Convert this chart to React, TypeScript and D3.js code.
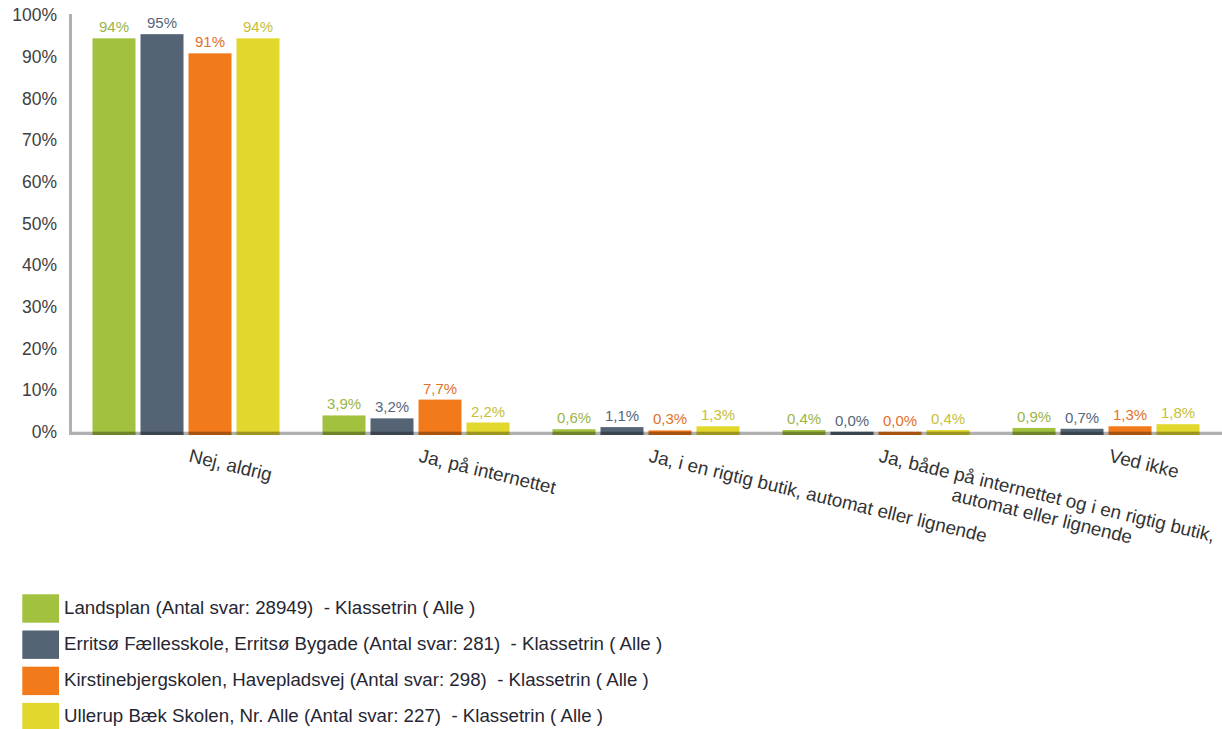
import React, { useEffect, useRef } from "react";
import * as d3 from "d3";

const categories: string[][] = [
  ["Nej, aldrig"],
  ["Ja, på internettet"],
  ["Ja, i en rigtig butik, automat eller lignende"],
  ["Ja, både på internettet og i en rigtig butik,", "automat eller lignende"],
  ["Ved ikke"],
];

const seriesNames = [
  "Landsplan (Antal svar: 28949)  - Klassetrin ( Alle )",
  "Erritsø Fællesskole, Erritsø Bygade (Antal svar: 281)  - Klassetrin ( Alle )",
  "Kirstinebjergskolen, Havepladsvej (Antal svar: 298)  - Klassetrin ( Alle )",
  "Ullerup Bæk Skolen, Nr. Alle (Antal svar: 227)  - Klassetrin ( Alle )",
];

const landsplan = [94.4, 3.9, 0.6, 0.4, 0.9];
const erritsoe = [95.4, 3.2, 1.1, 0.0, 0.7];
const kirstinebjerg = [90.8, 7.7, 0.3, 0.0, 1.3];
const ullerup = [94.4, 2.2, 1.3, 0.4, 1.8];
const seriesValues = [landsplan, erritsoe, kirstinebjerg, ullerup];

const barColors = ["#a2c13f", "#546475", "#f27a1a", "#e2d82d"];
const labelColors = ["#9ab548", "#56667a", "#e2712a", "#c8c033"];

const yTicks = [0, 10, 20, 30, 40, 50, 60, 70, 80, 90, 100];

const W = 1222;
const H = 729;
const FONT = "'Liberation Sans', Arial, sans-serif";

function fmt(v: number): string {
  if (v >= 10) return `${Math.round(v)}%`;
  return `${v.toFixed(1).replace(".", ",")}%`;
}

export default function App() {
  const ref = useRef<SVGSVGElement | null>(null);

  useEffect(() => {
    const svg = d3.select(ref.current);
    svg.selectAll("*").remove();

    const y = d3.scaleLinear().domain([0, 100]).range([431.7, 15]);
    const x0 = d3
      .scaleBand<number>()
      .domain(categories.map((_, i) => i))
      .range([71, 1221])
      .padding(0);
    const groupW = 187;
    const x1 = d3
      .scaleBand<number>()
      .domain(seriesValues.map((_, i) => i))
      .range([0, groupW])
      .paddingInner(5 / 48)
      .paddingOuter(0);
    const base = 435;

    // y tick labels
    const yg = svg.append("g");
    yTicks.forEach((t) => {
      yg.append("text")
        .attr("x", 57)
        .attr("y", y(t))
        .attr("dy", "0.36em")
        .attr("text-anchor", "end")
        .attr("font-family", FONT)
        .attr("font-size", 17.5)
        .attr("fill", "#404040")
        .text(`${t}%`);
    });

    // bars
    const bars = svg.append("g");
    categories.forEach((_, ci) => {
      const gx = x0(ci)! + x0.bandwidth() / 2 - groupW / 2;
      seriesValues.forEach((vals, si) => {
        const v = vals[ci];
        const bx = gx + x1(si)!;
        bars
          .append("rect")
          .attr("x", bx)
          .attr("y", y(v))
          .attr("width", x1.bandwidth())
          .attr("height", base - y(v))
          .attr("fill", barColors[si]);
        bars
          .append("text")
          .attr("x", bx + x1.bandwidth() / 2)
          .attr("y", y(v) - 6)
          .attr("text-anchor", "middle")
          .attr("font-family", FONT)
          .attr("font-size", 15)
          .attr("fill", labelColors[si])
          .text(fmt(v));
      });
    });

    // axes lines (semi-transparent, drawn over bars)
    svg
      .append("rect")
      .attr("x", 69)
      .attr("y", 14)
      .attr("width", 3)
      .attr("height", y(0) - 14)
      .attr("fill", "#000")
      .attr("fill-opacity", 0.31);
    svg
      .append("rect")
      .attr("x", 69)
      .attr("y", y(0))
      .attr("width", W - 69)
      .attr("height", base - y(0))
      .attr("fill", "#000")
      .attr("fill-opacity", 0.31);

    // category labels
    const angle = 13.5;
    const lineH = 21;
    categories.forEach((lines, ci) => {
      const cx = x0(ci)! + x0.bandwidth() / 2;
      const g = svg
        .append("g")
        .attr("transform", `translate(${cx + 2},${461.5}) rotate(${angle})`);
      const texts = lines.map((ln, li) =>
        g
          .append("text")
          .attr("y", li * lineH)
          .attr("font-family", FONT)
          .attr("font-size", 18.8)
          .attr("fill", "#333333")
          .text(ln)
      );
      const widths = texts.map((t) => (t.node() as SVGTextElement).getComputedTextLength());
      const maxW = Math.max(...widths);
      texts.forEach((t) => t.attr("x", maxW / 2).attr("text-anchor", "middle"));
    });

    // legend
    const lg = svg.append("g");
    seriesNames.forEach((name, si) => {
      const top = 594.3 + si * 36.2;
      lg.append("rect")
        .attr("x", 22.3)
        .attr("y", top)
        .attr("width", 36.7)
        .attr("height", 28.4)
        .attr("fill", barColors[si]);
      lg.append("text")
        .attr("x", 64)
        .attr("y", top + 19.2)
        .attr("font-family", FONT)
        .attr("font-size", 18.7)
        .attr("fill", "#262633")
        .style("white-space", "pre")
        .text(name);
    });
  }, []);

  return (
    <svg
      ref={ref}
      width={W}
      height={H}
      style={{ position: "absolute", left: 0, top: 0, background: "#fff" }}
    />
  );
}
